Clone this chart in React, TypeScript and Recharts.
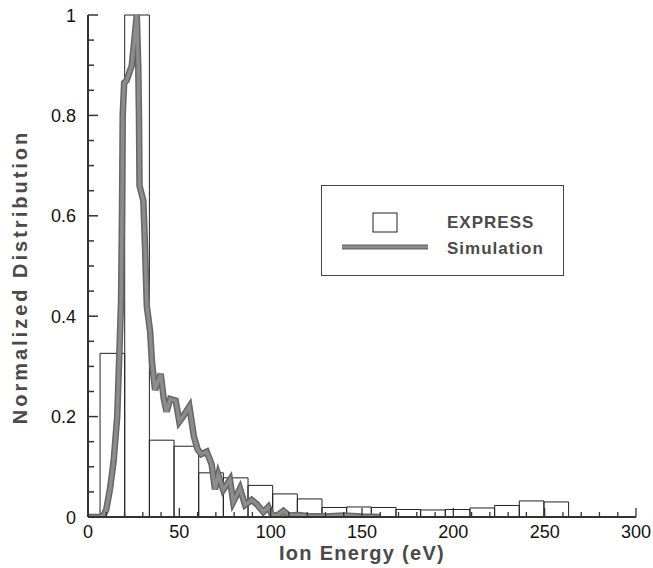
import { ComposedChart, Line, XAxis, YAxis, ReferenceArea, Legend, Label } from 'recharts'

// EXPRESS histogram: bin edges (eV) and normalized counts per bin
const binEdges = [6.6, 20.1, 33.6, 47.1, 60.6, 74.1, 87.6, 101.1, 114.6, 128.1, 141.6, 155.1, 168.6, 182.1, 195.6, 209.1, 222.6, 236.1, 249.6, 263.1]
const expressValues = [0.326, 1.0, 0.153, 0.141, 0.088, 0.078, 0.063, 0.046, 0.036, 0.019, 0.02, 0.019, 0.015, 0.014, 0.015, 0.018, 0.023, 0.032, 0.03]

// simulated distribution
const simEnergy = [0, 6, 8.5, 10, 12, 14, 16, 17.2, 18.1, 18.6, 19, 19.8, 21.2, 24, 26.7, 27.5, 27.9, 28.2, 30.3, 31.2, 32.2, 34, 35, 36.7, 39.8, 41.5, 43, 45, 48, 50, 52, 55.5, 58, 60, 62, 65, 67.7, 69.5, 71.3, 74, 77.7, 79.5, 83.2, 86, 89.6, 92.3, 96, 98.7, 101, 104, 107, 110, 115, 120, 130, 140, 150, 160]
const simValues = [0, 0, 0.003, 0.015, 0.055, 0.11, 0.2, 0.33, 0.43, 0.6, 0.8, 0.865, 0.87, 0.9, 1.0, 0.9, 0.8, 0.66, 0.63, 0.54, 0.42, 0.37, 0.31, 0.253, 0.285, 0.235, 0.21, 0.235, 0.232, 0.19, 0.2, 0.22, 0.16, 0.135, 0.125, 0.13, 0.105, 0.055, 0.084, 0.054, 0.074, 0.03, 0.057, 0.024, 0.034, 0.026, 0.01, 0.02, 0.002, 0.004, 0.012, 0.003, 0.004, 0.002, 0.001, 0.003, 0.001, 0]

const xTicks = [0, 10, 20, 30, 40, 50, 60, 70, 80, 90, 100, 110, 120, 130, 140, 150, 160, 170, 180, 190, 200, 210, 220, 230, 240, 250, 260, 270, 280, 290, 300]
const yTicks = [0, 0.05, 0.1, 0.15, 0.2, 0.25, 0.3, 0.35, 0.4, 0.45, 0.5, 0.55, 0.6, 0.65, 0.7, 0.75, 0.8, 0.85, 0.9, 0.95, 1]

const simData = simEnergy.map((x, i) => ({ x, y: simValues[i] }))
const bins = expressValues.map((v, i) => ({ lo: binEdges[i], hi: binEdges[i + 1], v }))

const font = '"Liberation Sans", Arial, Helvetica, sans-serif'
const ink = '#333'
const titleInk = '#4a4a4a'

function XTick(props: any) {
  const { x, y, payload } = props
  const v = payload.value
  const major = v % 50 === 0
  return (
    <g>
      <line x1={x} x2={x} y1={y} y2={y - (major ? 9 : 5)} stroke={ink} strokeWidth={1.3} />
      {major && (
        <text x={x} y={y + 21} textAnchor="middle" fontSize={18} fontFamily={font} fill="#111">
          {v}
        </text>
      )}
    </g>
  )
}

function YTick(props: any) {
  const { x, y, payload } = props
  const v = payload.value
  const major = Math.round(v * 100) % 20 === 0
  return (
    <g>
      <line x1={x} x2={x + (major ? 10 : 6)} y1={y} y2={y} stroke={ink} strokeWidth={1.5} />
      {major && (
        <text x={x - 12} y={y + 6.5} textAnchor="end" fontSize={18} fontFamily={font} fill="#111">
          {String(v)}
        </text>
      )}
    </g>
  )
}

function XTitle(props: any) {
  const vb = props.viewBox
  return (
    <text x={vb.x + vb.width / 2} y={vb.y + 43} textAnchor="middle" fontSize={20} fontWeight="bold"
      letterSpacing={1.3} fontFamily={font} fill={titleInk}>
      Ion Energy (eV)
    </text>
  )
}

function YTitle(props: any) {
  const vb = props.viewBox
  const cx = 20
  const cy = vb.y + 262
  return (
    <text x={cx} y={cy} transform={`rotate(-90, ${cx}, ${cy})`} textAnchor="middle" dominantBaseline="central"
      fontSize={20} fontWeight="bold" letterSpacing={3} fontFamily={font} fill={titleInk}>
      Normalized Distribution
    </text>
  )
}

function LegendBox() {
  return (
    <div style={{ width: 243, height: 91, border: '1.5px solid #444', boxSizing: 'border-box', background: '#fff', position: 'relative' }}>
      <svg width={243} height={91} style={{ position: 'absolute', left: -1.5, top: -1.5 }}>
        <rect x={52} y={28} width={24} height={19} fill="none" stroke="#222" strokeWidth={1} />
        <line x1={21} x2={107} y1={62} y2={62} stroke="#666" strokeWidth={5} />
        <line x1={21} x2={107} y1={62} y2={62} stroke="#8c8c8c" strokeWidth={2.5} />
        <text x={126} y={43} fontSize={17} fontWeight="bold" letterSpacing={1} fontFamily={font} fill={titleInk}>EXPRESS</text>
        <text x={126} y={69} fontSize={17} fontWeight="bold" letterSpacing={1} fontFamily={font} fill={titleInk}>Simulation</text>
      </svg>
    </div>
  )
}

export default function App() {
  return (
    <div style={{ position: 'absolute', left: 0, top: 0, width: 653, height: 568, background: '#fff' }}>
      <ComposedChart width={653} height={568} margin={{ top: 15, right: 17, bottom: 21, left: 28 }}>
        <XAxis
          type="number"
          dataKey="x"
          domain={[0, 300]}
          ticks={xTicks}
          interval={0}
          tickSize={0}
          tickMargin={0}
          tickLine={false}
          tick={XTick}
          height={30}
          axisLine={{ stroke: ink, strokeWidth: 2 }}
          allowDataOverflow
        >
          <Label content={XTitle} />
        </XAxis>
        <YAxis
          type="number"
          domain={[0, 1]}
          ticks={yTicks}
          interval={0}
          tickSize={0}
          tickMargin={0}
          tickLine={false}
          tick={YTick}
          width={60}
          axisLine={{ stroke: ink, strokeWidth: 2 }}
          allowDataOverflow
        >
          <Label content={YTitle} />
        </YAxis>
        {bins.map((b) => (
          <ReferenceArea key={b.lo} x1={b.lo} x2={b.hi} y1={0} y2={b.v} fill="none" stroke="#222" strokeWidth={1} fillOpacity={0} ifOverflow="visible" />
        ))}
        <Line data={simData} dataKey="y" type="linear" stroke="#666" strokeWidth={6.5} dot={false} activeDot={false} legendType="none" isAnimationActive={false} />
        <Line data={simData} dataKey="y" type="linear" stroke="#8c8c8c" strokeWidth={3.5} dot={false} activeDot={false} legendType="none" isAnimationActive={false} />
        <Legend
          layout="vertical"
          align="center"
          verticalAlign="middle"
          content={LegendBox}
          wrapperStyle={{ left: 321, top: 185, width: 243, height: 91 }}
        />
      </ComposedChart>
    </div>
  )
}
